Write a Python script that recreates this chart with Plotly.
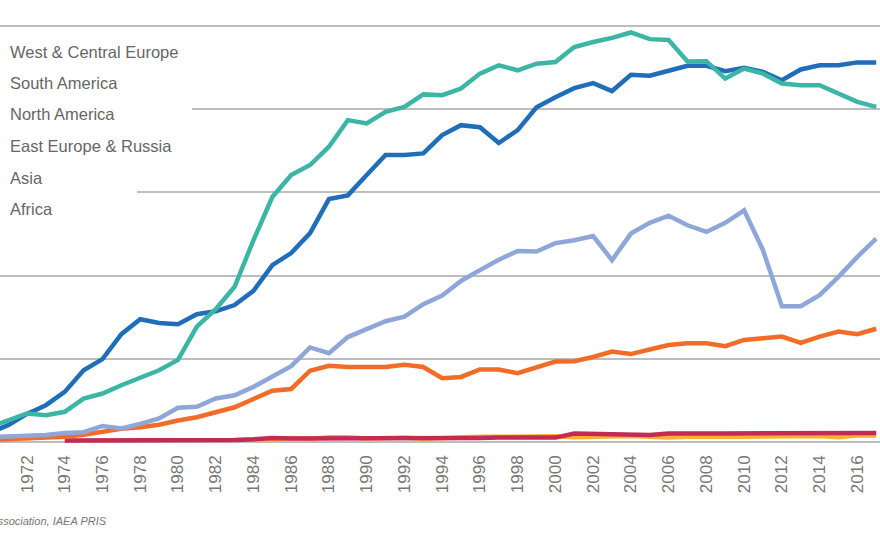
import plotly.graph_objects as go

years = list(range(1970, 2018))

west_central_europe = [35, 52, 68, 64, 72, 104, 116, 136, 153, 172, 197, 277, 319, 373, 485, 589, 642, 666, 710, 774,
                       766, 794, 806, 836, 834, 850, 886, 906, 894, 910, 914, 950, 962, 972, 985, 969, 967, 915, 916, 874,
                       898, 886, 862, 858, 858, 838, 818, 806]
north_america = [21, 40, 67, 88, 120, 172, 199, 259, 295, 286, 283, 307, 314, 329, 363, 425, 454, 502, 584, 593,
                 642, 690, 690, 694, 738, 762, 757, 719, 750, 805, 829, 851, 863, 844, 883, 881, 893, 905, 905, 892,
                 900, 890, 870, 896, 906, 906, 913, 913]
asia = [11, 12, 14, 16, 21, 23, 38, 32, 43, 56, 82, 84, 104, 112, 132, 156, 182, 227, 213, 252,
        272, 290, 301, 331, 352, 387, 413, 438, 459, 458, 478, 485, 495, 437, 501, 527, 544, 521, 505, 527,
        557, 461, 326, 326, 353, 397, 445, 489]
east_europe_russia = [4, 6, 7, 10, 12, 17, 24, 31, 35, 41, 51, 59, 71, 83, 103, 123, 127, 171, 183, 180,
                      180, 180, 185, 180, 153, 156, 174, 174, 165, 180, 193, 194, 204, 217, 211, 222, 233, 237, 237, 230,
                      245, 249, 253, 238, 253, 265, 259, 272]
south_america = [None, None, None, None, 3, 3, 3, 3, 3, 3, 3, 4, 4, 4, 6, 9, 8, 8, 7, 8,
                 9, 9, 9, 8, 8, 9, 9, 10, 10, 10, 10, 20, 19, 20, 19, 16, 20, 19, 20, 20,
                 20, 21, 20, 20, 20, 20, 22, 21]
africa = [None] * 14 + [4, 5, 9, 7, 11, 11,
                        8, 9, 10, 7, 9, 11, 12, 12, 13, 13, 13, 11, 12, 13, 14, 12, 10, 12, 13, 12,
                        12, 13, 12, 14, 14, 11, 15, 15]

tick_years = list(range(1972, 2017, 2))
legend_labels = ["West & Central Europe", "South America", "North America",
                 "East Europe & Russia", "Asia", "Africa"]

series = [
    ("Africa", africa, "rgb(248,176,50)"),
    ("South America", south_america, "rgb(196,42,82)"),
    ("East Europe & Russia", east_europe_russia, "rgb(241,108,38)"),
    ("Asia", asia, "rgb(143,167,216)"),
    ("North America", north_america, "rgb(32,110,186)"),
    ("West & Central Europe", west_central_europe, "rgb(60,182,164)"),
]

fig = go.Figure()
for name, vals, col in series:
    fig.add_trace(go.Scatter(x=years, y=vals, name=name, mode="lines",
                             line=dict(color=col, width=4.5), connectgaps=False,
                             showlegend=False))

Y0, Y1 = -3, 1003
PX_PER_UNIT = 415.7 / 1000
TOP = 26 - (Y1 - 1000) * PX_PER_UNIT
BOT = 441.7 - Y0 * PX_PER_UNIT
ph = BOT - TOP

def py(ypx):
    return (BOT - ypx) / ph

# legend as plain text
leg_y = [52, 83, 114, 146, 178, 209]
for lab, yy in zip(legend_labels, leg_y):
    fig.add_annotation(text=lab, x=8 / 880, y=py(yy), xref="paper", yref="paper",
                       xanchor="left", yanchor="middle", showarrow=False,
                       font=dict(family="Liberation Sans", size=16.5, color="#666666"))

# white masks behind legend hiding part of gridlines (no traces pass there)
fig.add_shape(type="rect", xref="paper", yref="paper", x0=0, x1=192 / 880,
              y0=py(118), y1=py(100), fillcolor="white", line_width=0, layer="above")
fig.add_shape(type="rect", xref="paper", yref="paper", x0=0, x1=137 / 880,
              y0=py(200), y1=py(186), fillcolor="white", line_width=0, layer="above")

fig.add_annotation(text="<i>Source: World Nuclear Association, IAEA PRIS</i>",
                   x=109 / 880, y=py(521), xref="paper", yref="paper",
                   xanchor="right", yanchor="middle", showarrow=False,
                   font=dict(family="Liberation Sans", size=11, color="#777777"))

fig.update_xaxes(range=[1970.57, 2017.2], tickvals=tick_years, ticktext=[str(t) for t in tick_years],
                 tickangle=-90, showgrid=False, zeroline=False, showline=False,
                 ticks="", ticklabelstandoff=8,
                 tickfont=dict(family="Liberation Sans", size=17, color="#777777"))
fig.update_yaxes(range=[Y0, Y1], tickvals=[0, 200, 400, 600, 800, 1000], showgrid=True, gridcolor="#bdbdbd",
                 gridwidth=1.6, zeroline=False, showticklabels=False, showline=False)

fig.update_layout(width=880, height=540, margin=dict(l=0, r=0, t=TOP, b=540 - BOT),
                  paper_bgcolor="white", plot_bgcolor="white")

fig.write_html("out.html")
